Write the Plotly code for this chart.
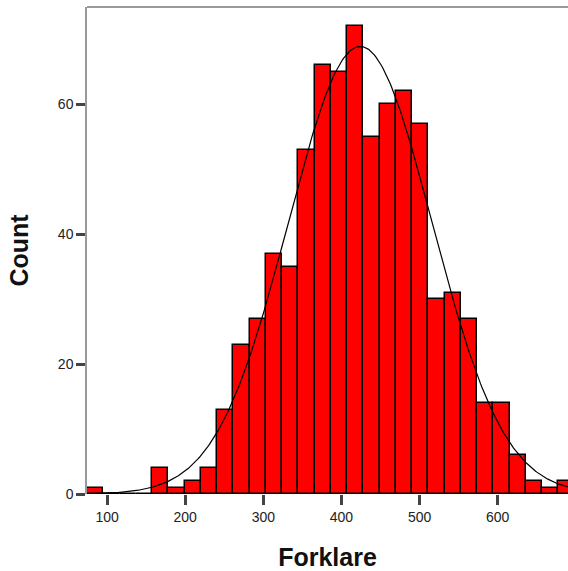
import numpy as np
import plotly.graph_objects as go

# histogram of Forklare (SPSS style), bins
bin_start = 74.3
bin_width = 20.81
counts = [1, 0, 0, 0, 4, 1, 2, 4, 13, 23, 27, 37, 35, 53, 66,
          65, 72, 55, 60, 62, 57, 30, 31, 27, 14, 14, 6, 2, 1, 2]
x_ticks = [100, 200, 300, 400, 500, 600]
y_ticks = [0, 20, 40, 60]

centers = [bin_start + bin_width * (i + 0.5) for i in range(len(counts))]
bin_end = bin_start + bin_width * len(counts)

# normal curve fitted to the binned data
c = np.array(centers)
n = np.array(counts)
total = n.sum()
mean = (c * n).sum() / total
sd = np.sqrt((n * (c - mean) ** 2).sum() / total)
xs = np.linspace(bin_start, bin_end, 400)
ys = total * bin_width / (sd * np.sqrt(2 * np.pi)) * np.exp(-0.5 * ((xs - mean) / sd) ** 2)

font = "Liberation Sans, Arial, sans-serif"

fig = go.Figure()
fig.add_trace(go.Bar(x=centers, y=counts, width=bin_width,
                     marker=dict(color="#ff0000", line=dict(color="black", width=1.5)),
                     showlegend=False))
fig.add_trace(go.Scatter(x=xs, y=ys, mode="lines",
                         line=dict(color="black", width=1.2), showlegend=False))

fig.update_layout(
    width=568, height=571,
    margin=dict(l=87, r=0, t=7, b=77),
    plot_bgcolor="white", paper_bgcolor="white",
    bargap=0,
    font=dict(family=font, color="#222", size=14),
    shapes=[dict(type="line", xref="paper", yref="paper", x0=0, x1=1, y0=1, y1=1,
                 line=dict(color="#999", width=2))],
)
fig.update_xaxes(range=[bin_start, 690], tickvals=x_ticks, ticks="outside",
                 ticklen=10, tickwidth=3, tickcolor="#444", showgrid=False,
                 zeroline=False, showline=False,
                 title=dict(text="<b>Forklare</b>", font=dict(size=25, color="#111"), standoff=25),
                 automargin=False)
fig.update_yaxes(range=[0, 75], tickvals=y_ticks, ticks="outside",
                 ticklen=9, tickwidth=3, tickcolor="#444", showgrid=False,
                 zeroline=False, showline=True, linecolor="#999", linewidth=1.5,
                 title=dict(text="<b>Count</b>", font=dict(size=25, color="#111"), standoff=22),
                 automargin=False)

fig.write_html("out.html", config={"displayModeBar": False},
               post_script="document.body.style.margin='0';")
